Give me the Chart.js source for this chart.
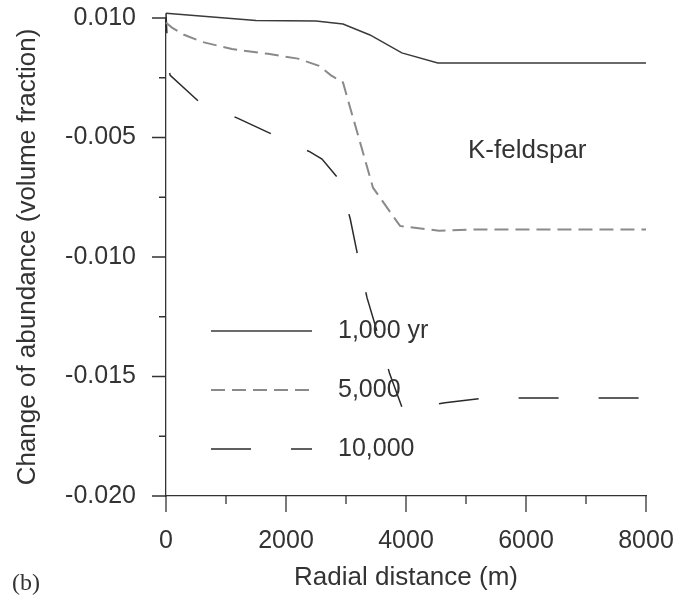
<!DOCTYPE html>
<html>
<head>
    <title>K-feldspar</title>
    <script src="https://cdn.jsdelivr.net/npm/chart.js"></script>
    <style>
        body { margin: 0; background: #fff; }
        #wrap { width: 676px; height: 599px; }
    </style>
</head>
<body>
    <div id="wrap">
        <canvas id="myChart" width="676" height="599"></canvas>
    </div>
    <script>
        // radial distance (m) and change of abundance, one pair of arrays per time
        const dist1000 = [0, 1500, 2500, 2800, 2950, 3400, 3930, 4530, 5000, 8000];
        const abund1000 = [0.0002, -0.0001, -0.00013, -0.00021, -0.00025, -0.00071, -0.00146, -0.00188, -0.00188, -0.00188];

        const dist5000 = [0, 100, 300, 600, 1100, 1700, 2200, 2550, 2750, 2950, 3450, 3900, 4550, 5100, 8000];
        const abund5000 = [-0.0002, -0.0004, -0.0007, -0.0010, -0.0013, -0.0015, -0.0017, -0.0020, -0.0024, -0.0027, -0.0071, -0.0087, -0.0089, -0.00885, -0.00885];

        const dist10000 = [0, 40, 70, 550, 1200, 1800, 2400, 2600, 2900, 3070, 3200, 3350, 3730, 3950, 4650, 5300, 8000];
        const abund10000 = [0.0002, -0.0021, -0.0024, -0.0035, -0.0042, -0.0049, -0.0056, -0.0059, -0.0068, -0.0084, -0.0100, -0.0117, -0.0149, -0.0164, -0.0161, -0.0159, -0.0159];

        const seriesNames = ['1,000 yr', '5,000', '10,000'];

        const xTicks = [0, 2000, 4000, 6000, 8000];
        const xMinorTicks = [1000, 3000, 5000, 7000];
        const yTicks = [0, -0.005, -0.010, -0.015, -0.020];
        const yTickLabels = ['0.010', '-0.005', '-0.010', '-0.015', '-0.020'];
        const yMinorTicks = [-0.0025, -0.0075, -0.0125, -0.0175];

        const ink = '#333';
        const family = 'Liberation Sans, Arial, sans-serif';
        const tickFont = { family: family, size: 25 };
        const titleFont = { family: family, size: 26 };

        function pairs(xs, ys) {
            return xs.map((x, i) => ({ x: x, y: ys[i] }));
        }

        // keep the plot box where the figure has it
        function noPad(s) {
            s.paddingTop = 0; s.paddingBottom = 0; s.paddingLeft = 0; s.paddingRight = 0;
        }

        // tick marks (long major, short minor), legend, panel label and mineral name
        const extras = {
            id: 'extras',
            afterDraw(chart) {
                const ctx = chart.ctx;
                const xs = chart.scales.x, ys = chart.scales.y;
                const area = chart.chartArea;
                ctx.save();
                ctx.strokeStyle = ink;
                ctx.lineWidth = 1.3;
                ctx.beginPath();
                xTicks.concat(xMinorTicks).forEach(v => {
                    const p = xs.getPixelForValue(v);
                    const len = xTicks.includes(v) ? 16 : 8;
                    ctx.moveTo(p, area.bottom);
                    ctx.lineTo(p, area.bottom + len);
                });
                yTicks.concat(yMinorTicks).forEach(v => {
                    const p = ys.getPixelForValue(v);
                    const len = yTicks.includes(v) ? 14 : 7;
                    ctx.moveTo(area.left, p);
                    ctx.lineTo(area.left - len, p);
                });
                ctx.stroke();

                // legend
                ctx.font = '25px ' + family;
                ctx.fillStyle = ink;
                ctx.textBaseline = 'middle';
                chart.data.datasets.forEach((ds, i) => {
                    const y = area.top + 313 + i * 59;
                    ctx.beginPath();
                    ctx.strokeStyle = ds.borderColor;
                    ctx.lineWidth = ds.borderWidth;
                    ctx.setLineDash(ds.borderDash || []);
                    ctx.moveTo(area.left + 45, y);
                    ctx.lineTo(area.left + 146, y);
                    ctx.stroke();
                    ctx.setLineDash([]);
                    ctx.fillText(ds.label, area.left + 172, y);
                });

                ctx.font = '26px ' + family;
                ctx.fillText('K-feldspar', area.left + 302, area.top + 133);

                ctx.font = '24px Liberation Serif, Times New Roman, serif';
                ctx.fillText('(b)', 12, 584);
                ctx.restore();
            }
        };

        const ctx = document.getElementById('myChart').getContext('2d');
        const myChart = new Chart(ctx, {
            type: 'line',
            data: {
                datasets: [
                    {
                        label: seriesNames[0],
                        data: pairs(dist1000, abund1000),
                        borderColor: '#3a3a3a',
                        borderWidth: 1.5
                    },
                    {
                        label: seriesNames[1],
                        data: pairs(dist5000, abund5000),
                        borderColor: '#8a8a8a',
                        borderWidth: 2,
                        borderDash: [14, 7]
                    },
                    {
                        label: seriesNames[2],
                        data: pairs(dist10000, abund10000),
                        borderColor: '#2a2a2a',
                        borderWidth: 1.5,
                        borderDash: [40, 40],
                        borderDashOffset: 20
                    }
                ]
            },
            options: {
                responsive: false,
                animation: false,
                clip: false,
                layout: { padding: { top: 18, right: 30, left: 0, bottom: 0 } },
                elements: {
                    point: { radius: 0 },
                    line: { tension: 0, fill: false }
                },
                plugins: {
                    legend: { display: false },
                    tooltip: { enabled: false }
                },
                scales: {
                    x: {
                        type: 'linear',
                        min: 0,
                        max: 8000,
                        afterBuildTicks: s => { s.ticks = xTicks.map(v => ({ value: v })); },
                        afterFit: s => { s.height = 103; noPad(s); },
                        grid: { display: false },
                        border: { display: true, color: ink, width: 1.3 },
                        ticks: { color: ink, font: tickFont, padding: 22, maxRotation: 0,
                                 callback: v => String(v) },
                        title: { display: true, text: 'Radial distance (m)', color: ink, font: titleFont,
                                 padding: { top: 0, bottom: 6 } }
                    },
                    y: {
                        type: 'linear',
                        min: -0.020,
                        max: 0,
                        afterBuildTicks: s => { s.ticks = yTicks.map(v => ({ value: v })); },
                        afterFit: s => { s.width = 166; noPad(s); },
                        grid: { display: false },
                        border: { display: true, color: ink, width: 1.3 },
                        ticks: { color: ink, font: tickFont, padding: 22,
                                 callback: v => yTickLabels[yTicks.findIndex(t => Math.abs(t - v) < 1e-6)] },
                        title: { display: true, text: 'Change of abundance (volume fraction)', color: ink, font: titleFont,
                                 padding: { top: 12, bottom: 0 } }
                    }
                }
            },
            plugins: [extras]
        });
    </script>
</body>
</html>
